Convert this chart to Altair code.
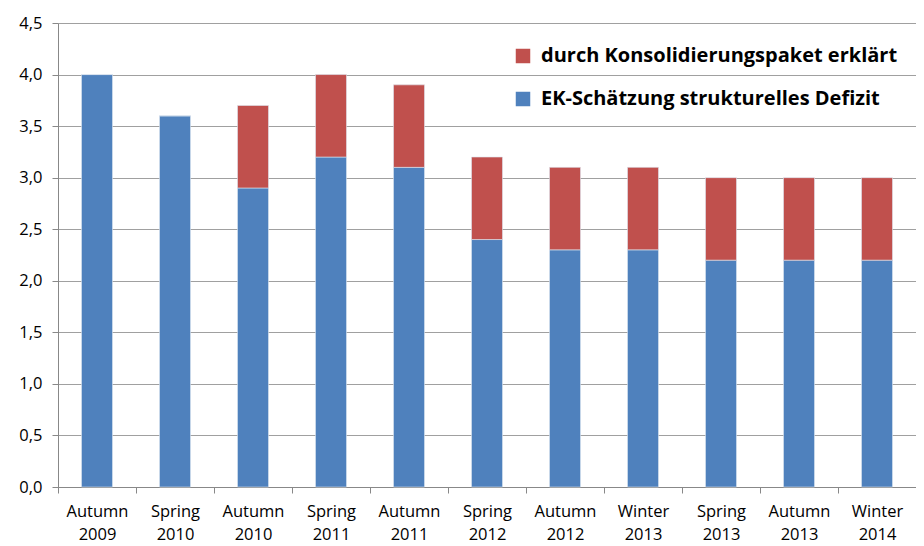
import altair as alt
import pandas as pd

categories = ["Autumn 2009", "Spring 2010", "Autumn 2010", "Spring 2011", "Autumn 2011",
              "Spring 2012", "Autumn 2012", "Winter 2013", "Spring 2013", "Autumn 2013", "Winter 2014"]
ek_schaetzung = [4.0, 3.6, 2.9, 3.2, 3.1, 2.4, 2.3, 2.3, 2.2, 2.2, 2.2]
konsolidierung = [0.0, 0.0, 0.8, 0.8, 0.8, 0.8, 0.8, 0.8, 0.8, 0.8, 0.8]

s_red = "durch Konsolidierungspaket erklärt"
s_blue = "EK-Schätzung strukturelles Defizit"

rows = []
for c, b, r in zip(categories, ek_schaetzung, konsolidierung):
    rows.append({"cat": c, "series": s_blue, "value": b, "ord": 0})
    rows.append({"cat": c, "series": s_red, "value": r, "ord": 1})
df = pd.DataFrame(rows)

font = "Open Sans"

chart = alt.Chart(df).mark_bar(size=31, stroke="#dde6f0", strokeWidth=0.6).encode(
    x=alt.X("cat:N", sort=categories, title=None,
            scale=alt.Scale(paddingInner=0, paddingOuter=0),
            axis=alt.Axis(labelAngle=0, labelExpr="split(datum.label, ' ')",
                          labelFont=font, labelFontSize=16.5, labelColor="#000000",
                          labelPadding=10, labelLineHeight=23,
                          domainColor="#888888", tickColor="#888888", tickSize=6,
                          tickBand="extent", grid=False)),
    y=alt.Y("value:Q", stack="zero", title=None,
            scale=alt.Scale(domain=[0, 4.5], nice=False),
            axis=alt.Axis(values=[0, 0.5, 1, 1.5, 2, 2.5, 3, 3.5, 4, 4.5],
                          labelExpr="replace(format(datum.value, '.1f'), '.', ',')",
                          labelFont=font, labelFontSize=16.5, labelColor="#000000",
                          labelPadding=10, domainColor="#888888", tickColor="#888888",
                          tickSize=6, gridColor="#a0a0a0", gridWidth=1.2)),
    color=alt.Color("series:N", scale=alt.Scale(domain=[s_red, s_blue], range=["#C0504D", "#4F81BD"]),
                    legend=alt.Legend(title=None, orient="none", legendX=455, legendY=23,
                                      symbolType="square", symbolSize=210, symbolStrokeWidth=0,
                                      symbolOffset=0,
                                      labelFont=font, labelFontSize=20, labelFontWeight="bold",
                                      labelColor="#000000", rowPadding=23, labelLimit=600,
                                      labelOffset=8)),
    order=alt.Order("ord:Q"),
).properties(
    width=858, height=464,
    autosize=alt.AutoSizeParams(type="none"),
    padding={"left": 50, "top": 15, "right": 0, "bottom": 56},
).configure_view(stroke=None)

chart.save("out.html", embed_options={"renderer": "svg", "actions": False})
